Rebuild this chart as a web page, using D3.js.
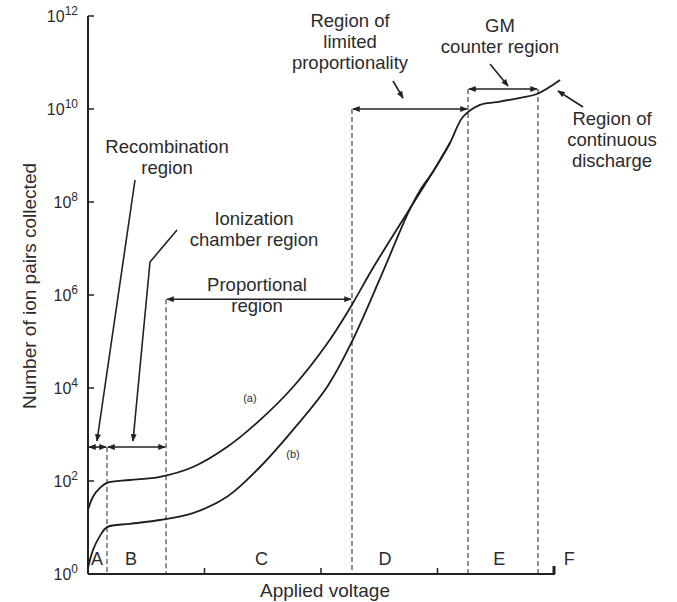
<!DOCTYPE html>
<html>
<head>
<meta charset="utf-8">
<title>Ion pairs collected vs applied voltage</title>
<script src="https://cdn.jsdelivr.net/npm/d3@7"></script>
<style>
  body { margin: 0; background: #fff; }
  svg text { font-family: "Liberation Sans", Arial, sans-serif; fill: #2b2b2b; }
</style>
</head>
<body>
<script>
// applied voltage (arbitrary units, ticks at 1..4) and ion pairs collected
var voltageA = [0, 0.043, 0.103, 0.163, 0.36, 0.618, 0.901, 1.193, 1.476, 1.76, 2.052, 2.249, 2.446, 2.738, 2.961, 3.107, 3.219, 3.365, 3.51, 3.71, 3.854, 4.052];
var pairsA   = [24, 46, 71, 91, 105, 123, 200, 537, 2040, 10500, 89100, 5.25e5, 3.8e6, 5.75e7, 4.47e8, 1.86e9, 6.8e9, 1.23e10, 1.41e10, 1.74e10, 2.1e10, 4.2e10];
var voltageB = [0, 0.043, 0.103, 0.163, 0.36, 0.618, 0.901, 1.193, 1.476, 1.76, 2.052, 2.266, 2.506, 2.747, 2.85, 2.961, 3.107];
var pairsB   = [1.35, 3.3, 6.6, 10.2, 12, 14.5, 20.4, 45.7, 200, 1260, 10500, 1.0e5, 2.24e6, 5.75e7, 1.78e8, 4.47e8, 1.86e9];

// region boundaries (voltage) and region letters
var boundaries = [0.163, 0.67, 2.266, 3.262, 3.863];
var regionLetters = ["A", "B", "C", "D", "E", "F"];
var xTicks = [1, 2, 3, 4];
var yExponents = [0, 2, 4, 6, 8, 10, 12];

var width = 677, height = 602;
var svg = d3.select("body").append("svg")
  .attr("width", width)
  .attr("height", height);

var x = d3.scaleLinear().domain([0, 4]).range([88, 554]);
var y = d3.scaleLog().domain([1, 1e12]).range([574, 16]);
function ye(e) { return y(Math.pow(10, e)); } // y from exponent

// arrow heads
var defs = svg.append("defs");
defs.append("marker")
  .attr("id", "head")
  .attr("viewBox", "0 0 10 8")
  .attr("refX", 9).attr("refY", 4)
  .attr("markerWidth", 8).attr("markerHeight", 6)
  .attr("markerUnits", "userSpaceOnUse")
  .attr("orient", "auto-start-reverse")
  .append("path")
  .attr("d", "M0,0 L10,4 L0,8 z")
  .attr("fill", "#222");

// dashed region dividers, each topped by the arrow above it
var dividerTops = [2.73, 5.91, 10.0, 10.43, 10.43];
svg.selectAll(".divider")
  .data(boundaries)
  .enter().append("line")
  .attr("class", "divider")
  .attr("x1", function(d) { return x(d); })
  .attr("x2", function(d) { return x(d); })
  .attr("y1", function(d, i) { return ye(dividerTops[i]); })
  .attr("y2", y(1))
  .attr("stroke", "#555")
  .attr("stroke-width", 1.3)
  .attr("stroke-dasharray", "5,3");

// axes
svg.append("line")
  .attr("x1", x(0)).attr("x2", x(0))
  .attr("y1", y(1e12)).attr("y2", y(1))
  .attr("stroke", "#222").attr("stroke-width", 2);
svg.append("line")
  .attr("x1", x(0)).attr("x2", x(4) + 1)
  .attr("y1", y(1)).attr("y2", y(1))
  .attr("stroke", "#222").attr("stroke-width", 2);

svg.selectAll(".ytick")
  .data(yExponents)
  .enter().append("line")
  .attr("x1", x(0)).attr("x2", x(0) + 6)
  .attr("y1", function(d) { return ye(d); })
  .attr("y2", function(d) { return ye(d); })
  .attr("stroke", "#222").attr("stroke-width", 1.5);

svg.selectAll(".xtick")
  .data(xTicks)
  .enter().append("line")
  .attr("x1", function(d) { return x(d); })
  .attr("x2", function(d) { return x(d); })
  .attr("y1", y(1))
  .attr("y2", function(d) { return d == 4 ? y(1) - 8 : y(1) - 6; })
  .attr("stroke", "#222")
  .attr("stroke-width", function(d) { return d == 4 ? 3 : 1.5; });

var yLabels = svg.selectAll(".ylab")
  .data(yExponents)
  .enter().append("text")
  .attr("x", 78)
  .attr("y", function(d) { return ye(d) + 6; })
  .attr("text-anchor", "end")
  .style("font-size", "16px");
yLabels.append("tspan").text("10");
yLabels.append("tspan")
  .attr("dy", -7)
  .style("font-size", "12px")
  .text(function(d) { return d; });

svg.append("text")
  .attr("transform", "translate(36," + 286 + ") rotate(-90)")
  .attr("text-anchor", "middle")
  .style("font-size", "19px")
  .text("Number of ion pairs collected");

svg.append("text")
  .attr("x", 325).attr("y", 597)
  .attr("text-anchor", "middle")
  .style("font-size", "19px")
  .text("Applied voltage");

// curves
var line = d3.line()
  .x(function(d) { return x(d[0]); })
  .y(function(d) { return y(d[1]); })
  .curve(d3.curveCatmullRom.alpha(0.5));

svg.append("path")
  .datum(d3.zip(voltageA, pairsA))
  .attr("d", line)
  .attr("fill", "none")
  .attr("stroke", "#1e1e1e")
  .attr("stroke-width", 1.8);
svg.append("path")
  .datum(d3.zip(voltageB, pairsB))
  .attr("d", line)
  .attr("fill", "none")
  .attr("stroke", "#1e1e1e")
  .attr("stroke-width", 1.8);

svg.append("text").attr("x", x(1.39)).attr("y", ye(3.7))
  .attr("text-anchor", "middle").style("font-size", "11px").text("(a)");
svg.append("text").attr("x", x(1.76)).attr("y", ye(2.5))
  .attr("text-anchor", "middle").style("font-size", "11px").text("(b)");

// region letters
var letterV = [0.077, 0.37, 1.49, 2.55, 3.53, 4.13];
svg.selectAll(".letter")
  .data(regionLetters)
  .enter().append("text")
  .attr("x", function(d, i) { return x(letterV[i]); })
  .attr("y", 565)
  .attr("text-anchor", "middle")
  .style("font-size", "18px")
  .text(function(d) { return d; });

// double-headed span arrows
var spans = [
  [0, boundaries[0], 2.73],
  [boundaries[0], boundaries[1], 2.73],
  [boundaries[1], boundaries[2], 5.91],
  [boundaries[2], boundaries[3], 10.0],
  [boundaries[3], boundaries[4], 10.43]
];
svg.selectAll(".span")
  .data(spans)
  .enter().append("line")
  .attr("x1", function(d) { return x(d[0]) + 1; })
  .attr("x2", function(d) { return x(d[1]) - 1; })
  .attr("y1", function(d) { return ye(d[2]); })
  .attr("y2", function(d) { return ye(d[2]); })
  .attr("stroke", "#222")
  .attr("stroke-width", 1.6)
  .attr("marker-start", "url(#head)")
  .attr("marker-end", "url(#head)");

// pointer arrows (pixel paths)
var pointers = [
  [[135, 180], [97, 441]],
  [[177, 230], [150, 262], [133, 441]],
  [[393, 81], [403, 98]],
  [[490, 64], [508, 86]],
  [[583, 107], [558, 91]]
];
svg.selectAll(".pointer")
  .data(pointers)
  .enter().append("path")
  .attr("d", function(d) { return d3.line()(d); })
  .attr("fill", "none")
  .attr("stroke", "#222")
  .attr("stroke-width", 1.6)
  .attr("marker-end", "url(#head)");

// annotations
var notes = [
  [167, 153, ["Recombination", "region"]],
  [254, 225, ["Ionization", "chamber region"]],
  [257, 291, ["Proportional", "region"]],
  [350, 27, ["Region of", "limited", "proportionality"]],
  [500, 32, ["GM", "counter region"]],
  [612, 125, ["Region of", "continuous", "discharge"]]
];
notes.forEach(function(n) {
  var t = svg.append("text")
    .attr("x", n[0]).attr("y", n[1])
    .attr("text-anchor", "middle")
    .style("font-size", "18.5px");
  n[2].forEach(function(s, i) {
    t.append("tspan").attr("x", n[0]).attr("dy", i == 0 ? 0 : 21).text(s);
  });
});
</script>
</body>
</html>
